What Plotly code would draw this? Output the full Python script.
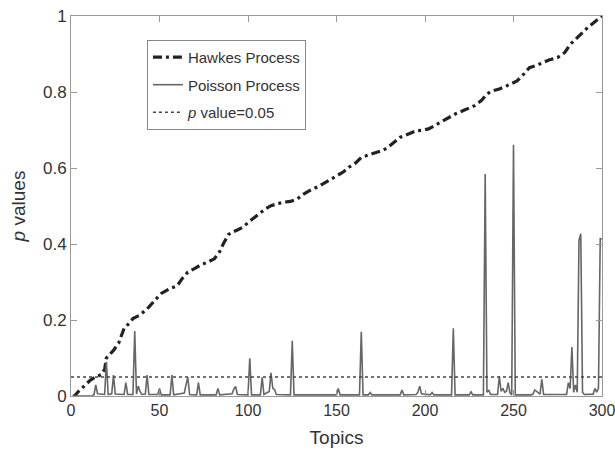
import plotly.graph_objects as go

# Hawkes process p values (topic index, p value)
hawkes_x = [1, 2, 4, 8, 11, 14, 17, 19, 20, 22, 24, 27, 30, 33, 35, 39, 44, 48, 51, 56, 60, 63, 66, 70, 73, 77, 81,
            84, 86, 89, 91, 94, 97, 101, 106, 110, 113, 117, 120, 124, 128, 131, 135, 140, 144, 148, 151, 154, 157,
            161, 164, 168, 173, 176, 179, 183, 186, 191, 195, 198, 202, 206, 210, 214, 217, 222, 228, 232, 235,
            238, 242, 246, 249, 252, 256, 259, 263, 266, 270, 275, 279, 282, 286, 289, 292, 296, 300]
hawkes_y = [0.0, 0.0, 0.011, 0.03, 0.042, 0.05, 0.056, 0.07, 0.1, 0.11, 0.12, 0.14, 0.178, 0.192, 0.204, 0.213,
            0.234, 0.255, 0.27, 0.283, 0.29, 0.31, 0.326, 0.336, 0.344, 0.352, 0.361, 0.38, 0.40, 0.425, 0.431,
            0.437, 0.444, 0.46, 0.479, 0.493, 0.501, 0.507, 0.51, 0.512, 0.519, 0.53, 0.541, 0.552, 0.563, 0.573,
            0.58, 0.59, 0.602, 0.614, 0.628, 0.634, 0.641, 0.646, 0.654, 0.67, 0.681, 0.69, 0.698, 0.699, 0.703,
            0.713, 0.724, 0.733, 0.742, 0.752, 0.764, 0.778, 0.795, 0.803, 0.808, 0.816, 0.822, 0.829, 0.848,
            0.864, 0.87, 0.877, 0.884, 0.891, 0.904, 0.925, 0.943, 0.955, 0.97, 0.985, 1.0]

# Poisson process p values: baseline and spikes (topic index, p value)
poisson_x = [1, 12, 13, 14, 15, 19, 20, 21, 23, 24, 25, 30, 31, 32, 35, 36, 37, 38, 39, 40, 42, 43, 44, 49, 50, 51,
             56, 57, 58, 64, 65, 66, 67, 71, 72, 73, 82, 83, 84, 91, 92, 93, 94, 100, 101, 102, 107, 108, 109, 112,
             113, 114, 115, 116, 124, 125, 126, 140, 150, 151, 152, 158, 163, 164, 165, 168, 169, 170, 186, 187,
             188, 195, 196, 197, 198, 203, 204, 205, 215, 216, 217, 225, 226, 227, 233, 234, 235, 236, 237, 241, 242,
             243, 244, 245, 246, 247, 248, 249, 250, 251, 252, 260, 261, 262, 265, 266, 267, 275, 280, 281, 282,
             283, 284, 285, 286, 287, 288, 289, 290, 295, 296, 297, 298, 299, 300]
poisson_y = [0.0, 0.0, 0.004, 0.029, 0.006, 0.004, 0.09, 0.004, 0.006, 0.055, 0.005, 0.004, 0.035, 0.004, 0.004,
             0.171, 0.005, 0.026, 0.012, 0.004, 0.005, 0.055, 0.004, 0.004, 0.02, 0.003, 0.003, 0.055, 0.003, 0.008,
             0.03, 0.049, 0.004, 0.003, 0.035, 0.003, 0.003, 0.02, 0.003, 0.006, 0.018, 0.025, 0.004, 0.003, 0.099,
             0.003, 0.003, 0.049, 0.004, 0.012, 0.061, 0.02, 0.017, 0.004, 0.003, 0.145, 0.003, 0.003, 0.003, 0.02,
             0.003, 0.003, 0.003, 0.169, 0.003, 0.003, 0.009, 0.003, 0.003, 0.016, 0.003, 0.004, 0.01, 0.026, 0.006,
             0.003, 0.009, 0.003, 0.003, 0.178, 0.003, 0.003, 0.011, 0.003, 0.003, 0.584, 0.01, 0.016, 0.004, 0.004,
             0.052, 0.012, 0.02, 0.01, 0.012, 0.035, 0.008, 0.003, 0.661, 0.003, 0.003, 0.003, 0.005, 0.016, 0.005,
             0.044, 0.004, 0.003, 0.004, 0.035, 0.02, 0.129, 0.01, 0.029, 0.01, 0.41, 0.427, 0.01, 0.004, 0.005,
             0.02, 0.01, 0.02, 0.414, 0.414]

# Threshold line
threshold_x = [0, 300]
threshold_y = [0.05, 0.05]

x_ticks = [0, 50, 100, 150, 200, 250, 300]
y_ticks = [0, 0.2, 0.4, 0.6, 0.8, 1]
y_tick_labels = ["0", "0.2", "0.4", "0.6", "0.8", "1"]

FONT = "Liberation Sans, Arial, sans-serif"

fig = go.Figure()
fig.add_trace(go.Scatter(x=hawkes_x, y=hawkes_y, mode="lines", name="Hawkes Process", legendgroup="a",
                         line=dict(color="#222222", width=3.2, dash="9px,4px,3px,4px")))
fig.add_trace(go.Scatter(x=poisson_x, y=poisson_y, mode="lines", name="Poisson Process", legendgroup="b",
                         line=dict(color="#666666", width=1.6)))
fig.add_trace(go.Scatter(x=threshold_x, y=threshold_y, mode="lines", name="<i>p</i> value=0.05", legendgroup="c",
                         line=dict(color="#444444", width=1.6, dash="dot")))

axis_common = dict(showline=True, linecolor="#999999", linewidth=1, mirror="ticks", ticks="inside",
                   ticklen=6, tickcolor="#999999", showgrid=False, zeroline=False, ticklabeloverflow="allow",
                   automargin=False)

fig.update_layout(
    width=615, height=454,
    margin=dict(l=71, r=13, t=16, b=58),
    paper_bgcolor="white", plot_bgcolor="white",
    font=dict(family=FONT, color="#333333"),
    showlegend=True,
    legend=dict(x=0.143, y=0.937, xanchor="left", yanchor="top", bgcolor="white",
                bordercolor="#888888", borderwidth=1, font=dict(family=FONT, size=15, color="#333333"),
                tracegroupgap=5, itemwidth=30),
    xaxis=dict(range=[0, 300], tickvals=x_ticks,
               tickfont=dict(family=FONT, size=16, color="#333333"),
               title=dict(text="Topics", font=dict(family=FONT, size=19), standoff=12),
               **axis_common),
    yaxis=dict(range=[0, 1], tickvals=y_ticks, ticktext=y_tick_labels,
               tickfont=dict(family=FONT, size=17, color="#333333"),
               title=dict(text="<i>p</i> values", font=dict(family=FONT, size=19), standoff=12),
               **axis_common),
)

fig.write_html("out.html", config={"displayModeBar": False},
               post_script="document.body.style.margin='0px';")
